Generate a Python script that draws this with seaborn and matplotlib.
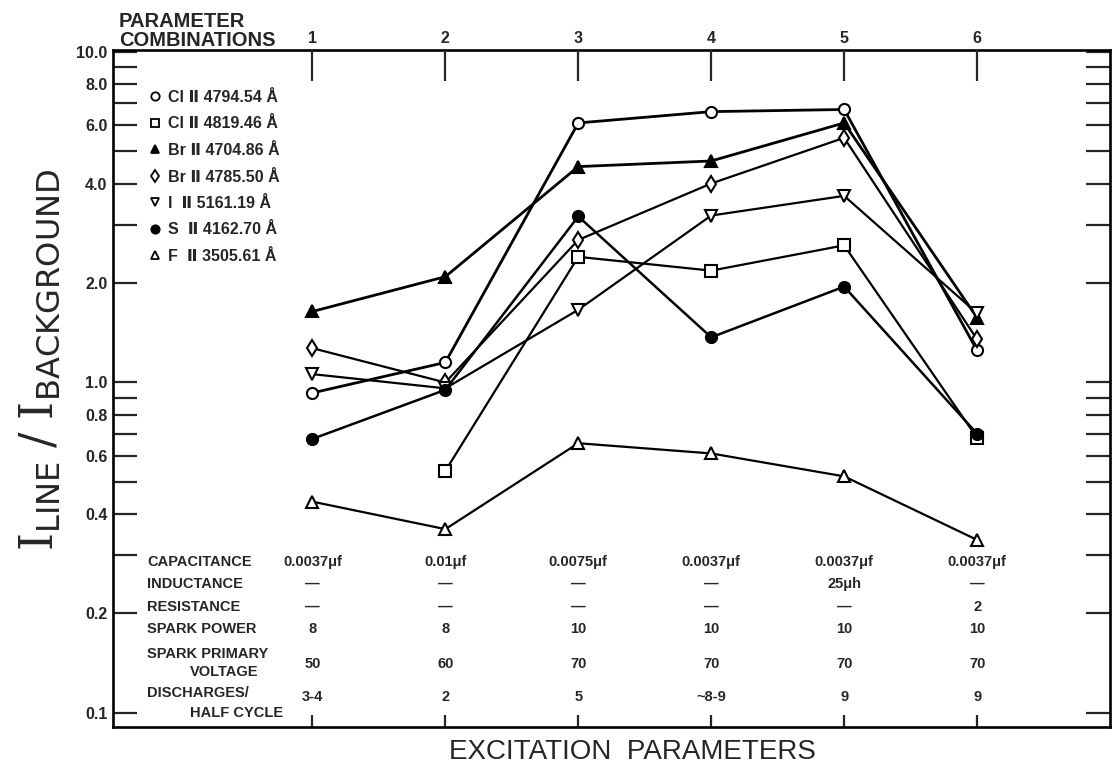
import numpy as np
import pandas as pd
import matplotlib
matplotlib.use("Agg")
import matplotlib.pyplot as plt
import seaborn as sns
from matplotlib.ticker import FixedLocator, NullLocator, FixedFormatter
from matplotlib.lines import Line2D

# ---- data -------------------------------------------------------------
combos = [1, 2, 3, 4, 5, 6]

cl_4794 = [0.93, 1.15, 6.1, 6.6, 6.7, 1.25]
cl_4819 = [np.nan, 0.54, 2.4, 2.18, 2.6, 0.68]
br_4704 = [1.64, 2.09, 4.5, 4.68, 6.1, 1.57]
br_4785 = [1.27, 1.0, 2.7, 4.0, 5.5, 1.35]
i_5161 = [1.06, 0.96, 1.66, 3.2, 3.67, 1.62]
s_4162 = [0.675, 0.95, 3.18, 1.37, 1.95, 0.70]
f_3505 = [0.436, 0.36, 0.655, 0.61, 0.52, 0.334]

series_labels = [
    "Cl \u2161 4794.54 \u00c5",
    "Cl \u2161 4819.46 \u00c5",
    "Br \u2161 4704.86 \u00c5",
    "Br \u2161 4785.50 \u00c5",
    "I  \u2161 5161.19 \u00c5",
    "S  \u2161 4162.70 \u00c5",
    "F  \u2161 3505.61 \u00c5",
]

# table of excitation parameters printed under each combination
capacitance = ["0.0037\u03bcf", "0.01\u03bcf", "0.0075\u03bcf", "0.0037\u03bcf", "0.0037\u03bcf", "0.0037\u03bcf"]
inductance = ["\u2014", "\u2014", "\u2014", "\u2014", "25\u03bch", "\u2014"]
resistance = ["\u2014", "\u2014", "\u2014", "\u2014", "\u2014", "2"]
spark_power = ["8", "8", "10", "10", "10", "10"]
primary_voltage = ["50", "60", "70", "70", "70", "70"]
discharges = ["3-4", "2", "5", "~8-9", "9", "9"]

ytick_values = [0.1, 0.2, 0.3, 0.4, 0.5, 0.6, 0.7, 0.8, 0.9,
                1, 2, 3, 4, 5, 6, 7, 8, 9, 10]
ytick_labels = ["0.1", "0.2", "", "0.4", "", "0.6", "", "0.8", "",
                "1.0", "2.0", "", "4.0", "", "6.0", "", "8.0", "", "10.0"]

# ---- styling ----------------------------------------------------------
sns.set_theme(style="white")
plt.rcParams["font.family"] = ["Liberation Sans", "DejaVu Sans"]
plt.rcParams["mathtext.fontset"] = "custom"
plt.rcParams["mathtext.rm"] = "DejaVu Serif"
plt.rcParams["mathtext.sf"] = "DejaVu Sans"

W, H = 1119, 772
fig = plt.figure(figsize=(W / 100, H / 100), dpi=100)
ax = fig.add_axes([113 / W, 1 - 727 / H, (1110 - 113) / W, (727 - 50) / H])

series = [
    (cl_4794, "o", "white", 2.0),
    (cl_4819, "s", "white", 1.6),
    (br_4704, "^", "black", 2.0),
    (br_4785, "d", "white", 1.6),
    (i_5161, "v", "white", 1.6),
    (s_4162, "o", "black", 1.8),
    (f_3505, "^", "white", 1.6),
]

handles = []
for (vals, mk, fc, lw), lab in zip(series, series_labels):
    df = pd.DataFrame({"combo": combos, "ratio": vals}).dropna()
    sns.lineplot(data=df, x="combo", y="ratio", ax=ax, color="black",
                 linewidth=lw, marker=mk, markersize=8,
                 markerfacecolor=fc, markeredgecolor="black",
                 markeredgewidth=1.5, zorder=3)
    handles.append(Line2D([], [], linestyle="none", marker=mk, markersize=6,
                          markerfacecolor=fc, markeredgecolor="black",
                          markeredgewidth=1.3, label=lab))

ax.set_yscale("log")
ax.set_ylim(0.0907, 10.14)
ax.set_xlim(-0.5, 7.0)
ax.yaxis.set_major_locator(FixedLocator(ytick_values))
ax.yaxis.set_major_formatter(FixedFormatter(ytick_labels))
ax.yaxis.set_minor_locator(NullLocator())
ax.tick_params(axis="y", which="both", direction="in", length=17, width=1.6,
               left=True, right=True, labelleft=True, labelright=False,
               labelsize=11.5, pad=4)
for t in ax.get_yticklabels():
    t.set_fontweight("bold")

ax.set_xticks(combos)
ax.set_xticklabels([])
ax.tick_params(axis="x", direction="in", length=9, width=1.6, bottom=True, top=False)
ax.set_xlabel("")
ax.set_ylabel("")

for sp in ax.spines.values():
    sp.set_linewidth(1.9)
    sp.set_color("black")

# parameter-combination numbers along the top edge
top = ax.twiny()
top.set_xlim(ax.get_xlim())
top.set_xticks(combos)
top.set_xticklabels([str(c) for c in combos], fontsize=11.5, fontweight="bold")
top.tick_params(axis="x", direction="in", length=22, width=1.6, pad=3)
for sp in top.spines.values():
    sp.set_visible(False)

fig.text(119 / W, 1 - 31 / H, "PARAMETER\nCOMBINATIONS", ha="left", va="center",
         fontsize=14.5, fontweight="bold", linespacing=0.95)

# legend of spectral lines
leg = ax.legend(handles=handles, loc="upper left",
                bbox_to_anchor=((150 - 113) / (1110 - 113), 1 - (90 - 50) / 677),
                frameon=False, handlelength=0.6, handletextpad=0.5,
                labelspacing=0.72, borderpad=0, borderaxespad=0,
                prop={"weight": "bold", "size": 11.5})

# excitation parameter table inside the plot
tr = ax.get_xaxis_transform()
ypix = lambda y: (727 - y) / 677
tk = dict(fontsize=10.5, fontweight="bold", transform=tr)
row_labels = [("CAPACITANCE", 147, 562), ("INDUCTANCE", 147, 584),
              ("RESISTANCE", 147, 607), ("SPARK POWER", 147, 629),
              ("SPARK PRIMARY", 147, 654), ("VOLTAGE", 190, 672),
              ("DISCHARGES/", 147, 693), ("HALF CYCLE", 190, 713)]
for txt, xp, yp in row_labels:
    ax.text(-0.5 + (xp - 113) / 133.2, ypix(yp), txt, ha="left", va="center", **tk)

row_values = [(capacitance, 562), (inductance, 584), (resistance, 607),
              (spark_power, 629), (primary_voltage, 664), (discharges, 697)]
for vals, yp in row_values:
    for c, v in zip(combos, vals):
        ax.text(c, ypix(yp), v, ha="center", va="center", **tk)

# axis titles
fig.text(40 / W, 1 - 360 / H,
         r"$\mathrm{I}_{\mathsf{LINE}}\;/\;\mathrm{I}_{\mathsf{BACKGROUND}}$",
         rotation=90, ha="center", va="center", fontsize=33)
fig.text(632 / W, 1 - 752 / H, "EXCITATION  PARAMETERS", ha="center", va="center",
         fontsize=20)

fig.savefig("out.png", dpi=100)
